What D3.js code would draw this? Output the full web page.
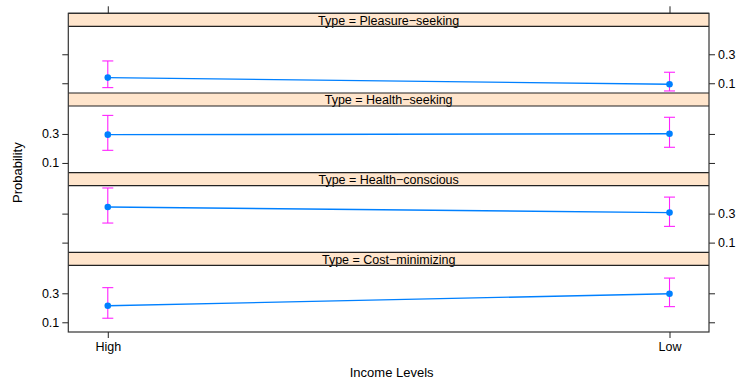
<!DOCTYPE html>
<html>
<head>
<meta charset="utf-8">
<script src="https://cdn.jsdelivr.net/npm/d3@7"></script>
<style>
  html, body { margin: 0; padding: 0; background: #fff; }
  svg { display: block; font-family: "Liberation Sans", Arial, Helvetica, sans-serif; }
</style>
</head>
<body>
<svg id="chart" width="743" height="382"></svg>
<script>
// Effect of income level on predicted probability of each shopper type
const incomeLevels = ["High", "Low"];
const types = ["Pleasure\u2212seeking", "Health\u2212seeking", "Health\u2212conscious", "Cost\u2212minimizing"];
const fitHigh   = [0.139, 0.295, 0.346, 0.214];
const fitLow    = [0.093, 0.301, 0.307, 0.297];
const lowerHigh = [0.070, 0.187, 0.235, 0.128];
const upperHigh = [0.254, 0.428, 0.477, 0.339];
const lowerLow  = [0.047, 0.208, 0.212, 0.208];
const upperLow  = [0.176, 0.415, 0.414, 0.405];
const yTicks = [0.1, 0.3];
const yDomain = [0.033, 0.493];

const svg = d3.select("#chart");

const left = 68.3, right = 709;
const top0 = 13.3, bottom0 = 332;
const nPanels = types.length;
const slot = (bottom0 - top0) / nPanels;
const stripH = 13;

const x = d3.scalePoint().domain(incomeLevels).range([left, right]).padding(0.0703);

const lineCol = "#0080ff", barCol = "#ff22ff";

types.forEach((t, i) => {
  const sTop = top0 + i * slot;
  const pTop = sTop + stripH;
  const pBot = sTop + slot;
  const y = d3.scaleLinear().domain(yDomain).range([pBot, pTop]);
  const g = svg.append("g");

  // strip
  g.append("rect").attr("x", left).attr("y", sTop).attr("width", right - left).attr("height", stripH)
    .attr("fill", "#ffe5cc").attr("stroke", "none");
  g.append("text").attr("x", (left + right) / 2).attr("y", sTop + stripH - 1.5)
    .attr("text-anchor", "middle").attr("font-size", 12.5).attr("fill", "#000")
    .text("Type = " + t);
  g.append("line").attr("x1", left).attr("x2", right).attr("y1", sTop).attr("y2", sTop)
    .attr("stroke", "#222").attr("stroke-width", 1.2);
  g.append("line").attr("x1", left).attr("x2", right).attr("y1", pTop).attr("y2", pTop)
    .attr("stroke", "#222").attr("stroke-width", 1.2);

  // y axes on both sides; labels alternate between right and left
  const labelRight = (i % 2 === 0);
  const axL = d3.axisLeft(y).tickValues(yTicks).tickSize(6).tickPadding(3)
    .tickFormat(labelRight ? "" : d3.format(".1f"));
  const axR = d3.axisRight(y).tickValues(yTicks).tickSize(6).tickPadding(3)
    .tickFormat(labelRight ? d3.format(".1f") : "");
  [g.append("g").attr("transform", `translate(${left},0)`).call(axL),
   g.append("g").attr("transform", `translate(${right},0)`).call(axR)].forEach(a => {
    a.select(".domain").remove();
    a.selectAll(".tick line").attr("stroke", "#222");
    a.selectAll(".tick text").attr("font-size", 12.5).attr("fill", "#000")
      .attr("font-family", "'Liberation Sans', Arial, sans-serif");
  });

  // error bars
  const pts = incomeLevels.map((lv, j) => ({
    lv, fit: j === 0 ? fitHigh[i] : fitLow[i],
    lo: j === 0 ? lowerHigh[i] : lowerLow[i],
    hi: j === 0 ? upperHigh[i] : upperLow[i]
  }));
  const eb = g.append("g").attr("stroke", barCol).attr("stroke-width", 1.1).attr("fill", "none");
  pts.forEach(p => {
    const cx = x(p.lv);
    eb.append("line").attr("x1", cx).attr("x2", cx).attr("y1", y(p.lo)).attr("y2", y(p.hi));
    eb.append("line").attr("x1", cx - 5.5).attr("x2", cx + 5.5).attr("y1", y(p.lo)).attr("y2", y(p.lo));
    eb.append("line").attr("x1", cx - 5.5).attr("x2", cx + 5.5).attr("y1", y(p.hi)).attr("y2", y(p.hi));
  });

  // fitted line and points
  g.append("path").datum(pts)
    .attr("d", d3.line().x(d => x(d.lv)).y(d => y(d.fit)))
    .attr("stroke", lineCol).attr("stroke-width", 1.4).attr("fill", "none");
  g.selectAll("circle.pt").data(pts).join("circle").attr("class", "pt")
    .attr("cx", d => x(d.lv)).attr("cy", d => y(d.fit)).attr("r", 3.3).attr("fill", lineCol);
});

// outer frame left/right/bottom
svg.append("rect").attr("x", left).attr("y", top0).attr("width", right - left).attr("height", bottom0 - top0)
  .attr("fill", "none").attr("stroke", "#333").attr("stroke-width", 1.2);

// bottom and top x axes
const xb = svg.append("g").attr("transform", `translate(0,${bottom0})`)
  .call(d3.axisBottom(x).tickSize(6).tickPadding(4));
xb.select(".domain").remove();
xb.selectAll(".tick line").attr("stroke", "#222");
xb.selectAll(".tick text").attr("font-size", 12.5).attr("fill", "#000")
  .attr("font-family", "'Liberation Sans', Arial, sans-serif");
const xt = svg.append("g").attr("transform", `translate(0,${top0})`)
  .call(d3.axisTop(x).tickSize(7).tickFormat(""));
xt.select(".domain").remove();
xt.selectAll(".tick line").attr("stroke", "#222");

// axis titles
svg.append("text").attr("x", (left + right) / 2 + 3).attr("y", 377)
  .attr("text-anchor", "middle").attr("font-size", 13).attr("fill", "#000").text("Income Levels");
svg.append("text").attr("transform", `translate(22,${(top0 + bottom0) / 2}) rotate(-90)`)
  .attr("text-anchor", "middle").attr("font-size", 13).attr("fill", "#000").text("Probability");
</script>
</body>
</html>
